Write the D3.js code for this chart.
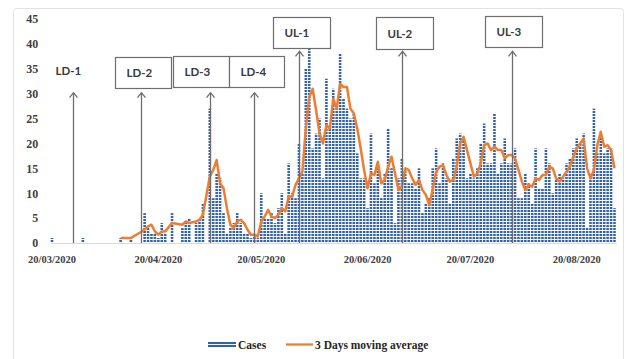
<!DOCTYPE html>
<html>
<head>
<meta charset="utf-8">
<script src="https://cdn.jsdelivr.net/npm/d3@7"></script>
<style>
  html, body { margin: 0; padding: 0; background: #fff; }
  svg { display: block; }
</style>
</head>
<body>
<svg id="chart" width="629" height="359"></svg>
<script>
// Daily new cases from 20/03/2020 (null = no report that day)
const startDay = "20/03/2020";
const cases = [
  1, null, null, null, null, null, null, null, null, 1,
  null, null, null, null, null, null, null, null, null, null,
  1, null, null, 1, null, null, null, 6, 3, 2,
  2, 1, 4, 2, null, 6, null, null, 3, 4,
  5, null, 4, 5, 8, null, 27, 9, 14, 13,
  6, 2, 3, 4, 6, 4, 2, 2, 1, 2,
  1, 10, 5, 5, 6, 4, 7, 10, 2, 16,
  10, 9, 20, 14, 35, 39, 19, 22, 25, 13,
  33, 23, 31, 27, 38, 29, 27, 25, 26, 18,
  13, 13, 7, 22, 12, 15, 9, 14, 23, 15,
  4, 13, 17, 15, 12, 12, 11, 15, 6, 8,
  9, 15, 19, 12, 16, 13, 8, 17, 21, 22,
  21, 13, 14, 13, 15, 20, 24, 16, 16, 26,
  14, 16, 21, 16, 16, 19, 9, 9, 14, 12,
  8, 19, 11, 11, 19, 16, 10, 13, 14, 13,
  16, 17, 19, 21, 20, 22, 3, 14, 27, 18,
  22, 18, 19, 19, 7
];

const xTickLabels = ["20/03/2020", "20/04/2020", "20/05/2020", "20/06/2020", "20/07/2020", "20/08/2020"];
const yTicks = [0, 5, 10, 15, 20, 25, 30, 35, 40, 45];

// Lockdown / unlock phases and the day each arrow marks
const phaseLabels = ["LD-1", "LD-2", "LD-3", "LD-4", "UL-1", "UL-2", "UL-3"];
const phaseDates = ["26/03/2020", "15/04/2020", "05/05/2020", "18/05/2020", "31/05/2020", "30/06/2020", "01/08/2020"];

const seriesNames = ["Cases", "3 Days moving average"];
const maPeriod = 3;

// ---- derived tables ----
const parse = d3.timeParse("%d/%m/%Y");
const fmt = d3.timeFormat("%d/%m/%Y");
const t0 = parse(startDay);
const days = cases.map((v, i) => ({ key: fmt(d3.timeDay.offset(t0, i)), value: v }));

// moving average over consecutive reported points, as a spreadsheet trendline does
const reported = days.filter(d => d.value !== null);
const movingAvg = reported.slice(maPeriod - 1).map((d, i) => ({
  key: d.key,
  value: d3.mean(reported.slice(i, i + maPeriod), p => p.value)
}));

// ---- layout ----
const svg = d3.select("#chart");
const plot = { left: 50.3, right: 616.2, top: 19, bottom: 243 };

const x = d3.scaleBand()
  .domain(days.map(d => d.key))
  .range([plot.left, plot.right])
  .paddingInner(0.25)
  .paddingOuter(0.125);

const y = d3.scaleLinear().domain([0, 45]).range([plot.bottom, plot.top]);
const cx = k => x(k) + x.bandwidth() / 2;

const blue = "#3462aa";
const orange = "#ED7D31";
const grey = "#6e6e6e";

// dotted fill used for the case bars
const defs = svg.append("defs");
const pat = defs.append("pattern")
  .attr("id", "dots")
  .attr("patternUnits", "userSpaceOnUse")
  .attr("width", 3).attr("height", 3);
pat.append("rect").attr("width", 3).attr("height", 3).attr("fill", "#f2f5fb");
pat.append("rect").attr("width", 3).attr("height", 2).attr("fill", blue);

// outer frame
svg.append("rect")
  .attr("x", 13.5).attr("y", 8.5).attr("width", 610).attr("height", 360)
  .attr("rx", 3)
  .attr("fill", "#fff").attr("stroke", "#e2e2e2");

// y axis labels
const yAxis = svg.append("g")
  .attr("transform", `translate(${plot.left},0)`)
  .call(d3.axisLeft(y).tickValues(yTicks).tickSize(0).tickPadding(12));
yAxis.select(".domain").remove();
yAxis.selectAll("text")
  .attr("font-family", "'Liberation Serif', 'Times New Roman', serif")
  .attr("font-weight", "bold")
  .attr("font-size", 12)
  .attr("fill", "#404040");

// bars
svg.append("g")
  .selectAll("rect")
  .data(days.filter(d => d.value !== null))
  .join("rect")
  .attr("x", d => x(d.key))
  .attr("width", x.bandwidth())
  .attr("y", d => y(d.value))
  .attr("height", d => y(0) - y(d.value))
  .attr("fill", "url(#dots)");

// x axis
const xAxis = svg.append("g")
  .attr("transform", `translate(0,${plot.bottom})`)
  .call(d3.axisBottom(x).tickValues(xTickLabels).tickSize(0).tickSizeOuter(0).tickPadding(13));
xAxis.select(".domain").attr("stroke", "#d9d9d9").attr("stroke-width", 1);
xAxis.selectAll("text")
  .attr("font-family", "'Liberation Serif', 'Times New Roman', serif")
  .attr("font-weight", "bold")
  .attr("font-size", 10.5)
  .attr("fill", "#404040");

// moving average line
svg.append("path")
  .datum(movingAvg)
  .attr("fill", "none")
  .attr("stroke", orange)
  .attr("stroke-width", 2.5)
  .attr("stroke-linejoin", "round")
  .attr("d", d3.line().x(d => cx(d.key)).y(d => y(d.value)));

// phase annotations: arrow up from the axis, label above (boxed except the first)
const phaseLayout = [
  { tip: 30.2, box: null,                 textX: -18, textY: 71 },
  { tip: 30.2, box: [-27, 57, 56, 31],    textX: null },
  { tip: 30.2, box: [-38, 56, 56, 31],    textX: null },
  { tip: 30.2, box: [-26, 56, 55, 31],    textX: null },
  { tip: 38.5, box: [-27, 17, 57, 31],    textX: null },
  { tip: 38.5, box: [-27, 17, 57, 32],    textX: null },
  { tip: 38.5, box: [-28, 16, 57, 31],    textX: null }
];

const ann = svg.append("g").attr("class", "phases");
phaseLabels.forEach((label, i) => {
  const ax = Math.round(cx(phaseDates[i])) + 0.5;
  const lay = phaseLayout[i];
  const ty = y(lay.tip);
  ann.append("line")
    .attr("x1", ax).attr("x2", ax)
    .attr("y1", y(0)).attr("y2", ty)
    .attr("stroke", grey).attr("stroke-width", 1.3);
  ann.append("path")
    .attr("d", `M${ax - 4},${ty + 5}L${ax},${ty}L${ax + 4},${ty + 5}`)
    .attr("fill", "none").attr("stroke", grey).attr("stroke-width", 1.3);

  let tx, tyText;
  if (lay.box) {
    const [dx, by, bw, bh] = lay.box;
    const bx = Math.round(ax + dx) + 0.5;
    ann.append("rect")
      .attr("x", bx).attr("y", by + 0.5)
      .attr("width", bw).attr("height", bh)
      .attr("fill", "#fff").attr("stroke", grey).attr("stroke-width", 1.2);
    tx = bx + 11;
    tyText = by + bh / 2 + 0.5;
  } else {
    tx = ax + lay.textX;
    tyText = lay.textY;
  }
  ann.append("text")
    .attr("x", tx).attr("y", tyText)
    .attr("dy", "0.36em")
    .attr("font-family", "Lato, 'Open Sans', sans-serif")
    .attr("font-weight", "bold")
    .attr("font-size", 11.5)
    .attr("fill", "#3a3a3a")
    .text(label);
});

// legend
const legend = svg.append("g")
  .attr("font-family", "'Liberation Serif', 'Times New Roman', serif")
  .attr("font-weight", "bold")
  .attr("font-size", 11.5)
  .attr("fill", "#262626");
legend.append("rect")
  .attr("x", 208).attr("y", 342).attr("width", 28).attr("height", 5)
  .attr("fill", "url(#dots)");
legend.append("text").attr("x", 238).attr("y", 345).attr("dy", "0.35em").text(seriesNames[0]);
legend.append("line")
  .attr("x1", 286).attr("x2", 313).attr("y1", 344.5).attr("y2", 344.5)
  .attr("stroke", orange).attr("stroke-width", 2.3);
legend.append("text").attr("x", 315).attr("y", 345).attr("dy", "0.35em").text(seriesNames[1]);
</script>
</body>
</html>
